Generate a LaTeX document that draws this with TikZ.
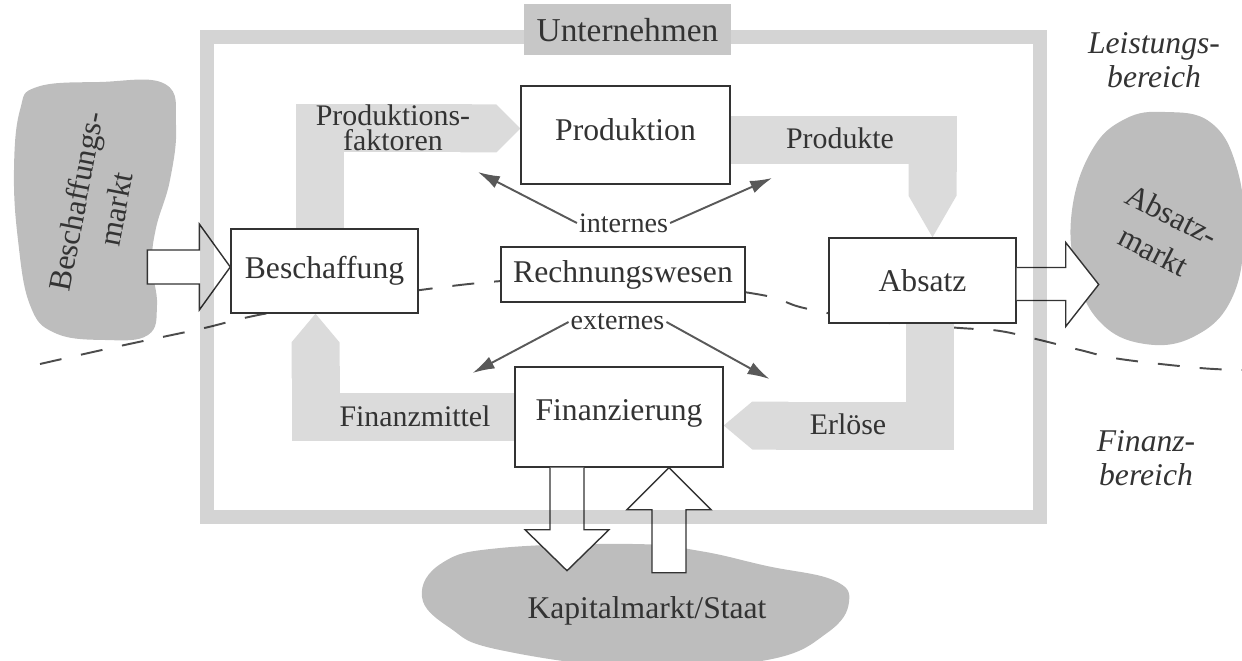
\documentclass[tikz,border=0pt]{standalone}
\usepackage{fontspec}
\setmainfont{Liberation Serif}
\usetikzlibrary{arrows.meta,backgrounds}

\begin{document}
\begin{tikzpicture}[
  x = 0.2mm, y = -0.2mm,
  every node/.style = {text=black!80},
  dept/.style = {draw=black!80, fill=white, line width=0.8pt, inner sep=0pt, font=\fontsize{18}{21}\selectfont},
  firmframe/.style = {draw=black!17, line width=2.8mm, minimum width=166.6mm, minimum height=96mm},
  firmtitle/.style = {fill=black!22, minimum width=41.4mm, minimum height=10.2mm, font=\fontsize{19}{22}\selectfont},
  flow/.style = {draw=black!14, line width=9.6mm},
  flowlabel/.style = {align=center, inner sep=0pt, font=\fontsize{17}{14}\selectfont},
  market/.style = {fill=black!26},
  marketlabel/.style = {align=center, font=\fontsize{18}{23}\selectfont},
  hollow/.style = {draw=black!80, fill=white, line width=0.8pt},
  pointer/.style = {draw=black!65, line width=1.1pt, -{Latex[length=4.4mm, width=2.6mm]}},
  small/.style = {inner sep=1pt, font=\fontsize{16}{19}\selectfont},
  divider/.style = {draw=black!70, line width=1.1pt, dash pattern=on 4.4mm off 4mm},
  area/.style = {align=center, font=\itshape\fontsize{18}{19}\selectfont},
  ]
  \useasboundingbox (0,0) rectangle (1242,661);

  \node[dept, minimum width=41.8mm, minimum height=19.6mm, text depth=2.2mm] (prod) at (625.5,135) {Produktion};
  \node[dept, minimum width=37.4mm, minimum height=16.8mm] (besch) at (324.5,271) {Beschaffung};
  \node[dept, minimum width=48.8mm, minimum height=11mm] (rech) at (623,274.5) {Rechnungswesen};
  \node[dept, minimum width=37.4mm, minimum height=17mm] (absatz) at (922.5,280.5) {Absatz};
  \node[dept, minimum width=41.6mm, minimum height=20mm, text depth=2.6mm] (finanz) at (619,417) {Finanzierung};

  \node[small] (intern) at (623.5,223) {internes};
  \node[small] (extern) at (617.5,322) {externes};

  \node[flowlabel] (pf) at (393,128) {Produktions-\\faktoren};
  \node[flowlabel] (pr) at (840,138) {Produkte};
  \node[flowlabel] (fm) at (415,416) {Finanzmittel};
  \node[flowlabel] (er) at (848,424) {Erlöse};

  \node[marketlabel, rotate=79] (bmarkt) at (96,205) {Beschaffungs-\\markt};
  \node[marketlabel, rotate=-27] (amarkt) at (1163,233) {Absatz-\\markt};
  \node[marketlabel] (kmarkt) at (647,611) {Kapitalmarkt/Staat};

  \node[area] (lb) at (1154,60) {Leistungs-\\bereich};
  \node[area] (fb) at (1146,458) {Finanz-\\bereich};

  \draw[hollow] ([yshift=0.8mm]besch.west) -- ++(-31,-43) -- ++(0,26) -- ++(-52,0) -- ++(0,34) -- ++(52,0) -- ++(0,26) -- cycle;
  \draw[hollow] ([yshift=2.6mm]absatz.east) -- ++(49,0) -- ++(0,-25) -- ++(33,42) -- ++(-33,42) -- ++(0,-26) -- ++(-49,0);
  \draw[hollow] ([xshift=-13.8mm]finanz.south) -- ++(0,62) -- ++(-25,0) -- ++(42,41) -- ++(42,-41) -- ++(-25,0) -- ++(0,-62);
  \draw[hollow] ([xshift=10mm]finanz.south) -- ++(42,42) -- ++(-25,0) -- ++(0,63) -- ++(-34,0) -- ++(0,-63) -- ++(-25,0) -- cycle;

  \draw[pointer] (intern.west) -- ++(-99,-51);
  \draw[pointer] (intern.east) -- ++(102,-45);
  \draw[pointer] (extern.west) -- ++(-96,51);
  \draw[pointer] (extern.east) -- ++(103,57);

  \begin{scope}[blend mode=multiply]
    \node[firmframe] (firm) at (623.5,277) {};
  \end{scope}
  \node[firmtitle] (firmname) at ([xshift=0.8mm]firm.north) {Unternehmen};

  \begin{scope}[on background layer]
    \fill[market] plot[smooth cycle, tension=0.7] coordinates {(37,87) (100,82) (165,84) (176,125) (170,180) (156,228) (152,265) (157,305) (148,335) (105,340) (55,333) (30,305) (18,240) (14,170) (20,110)};
    \fill[market] plot[smooth cycle, tension=0.7] coordinates {(1165,112) (1210,122) (1236,165) (1244,232) (1232,298) (1195,336) (1145,344) (1100,322) (1076,272) (1072,210) (1092,150) (1125,119)};
    \fill[market] plot[smooth cycle, tension=0.7] coordinates {(422,597) (442,563) (500,548) (633,544) (700,551) (767,566) (833,580) (849,602) (827,633) (767,660) (640,668) (500,650) (450,628)};
    \draw[divider] plot[smooth, tension=0.6] coordinates {(40,364) (120,346) (200,329) (280,311) (460,285) (560,279) (660,282) (762,295) (804,308) (880,322) (960,328) (1000,331) (1040,340) (1080,350) (1120,359) (1200,368) (1244,370)};
    \draw[flow, -{Triangle Cap[cap angle=90]}] ([xshift=-1mm]besch.north) |- ([yshift=1.3mm]prod.west);
    \draw[flow, -{Triangle Cap[cap angle=60]}] ([yshift=-1mm]prod.east) -| ([xshift=2mm]absatz.north);
    \draw[flow, -{Triangle Cap[cap angle=80]}] ([xshift=1.5mm]absatz.south) |- ([yshift=-1.7mm]finanz.east);
    \draw[flow, -{Triangle Cap[cap angle=80]}] (finanz.west) -| ([xshift=-1.8mm]besch.south);
  \end{scope}
\end{tikzpicture}
\end{document}
